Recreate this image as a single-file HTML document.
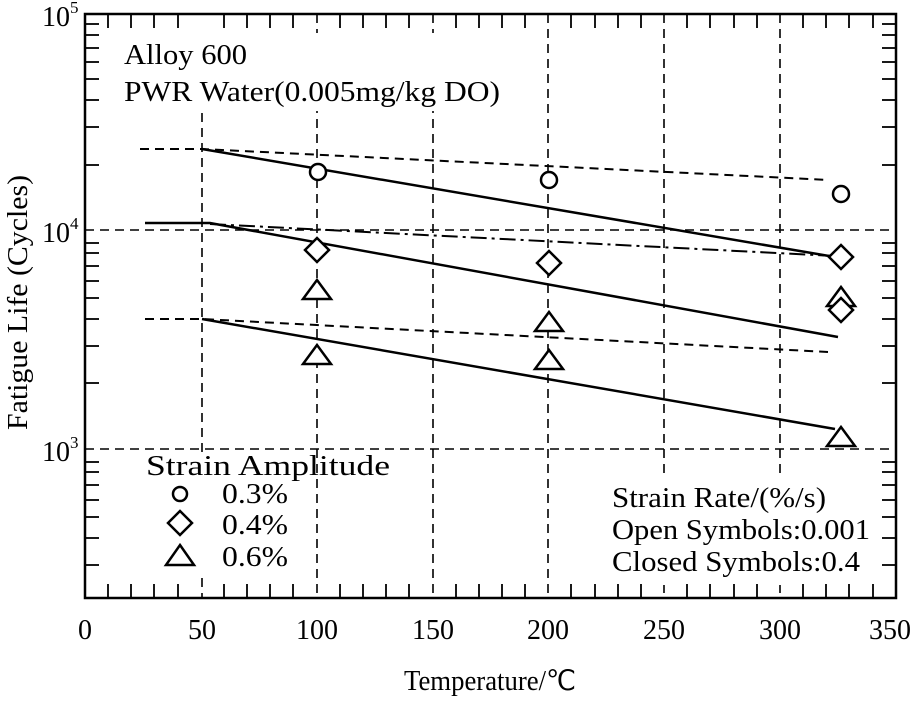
<!DOCTYPE html>
<html><head><meta charset="utf-8"><style>
html,body{margin:0;padding:0;background:#fff;}
svg text{font-family:"Liberation Serif",serif;fill:#000;}
</style></head><body>
<svg width="919" height="697" viewBox="0 0 919 697" xmlns="http://www.w3.org/2000/svg">
<rect width="919" height="697" fill="#fff"/>
<g stroke="#000" stroke-width="1.6" stroke-dasharray="9,6" fill="none">
<line x1="85" y1="230" x2="896" y2="230"/>
<line x1="85" y1="449" x2="896" y2="449"/>
<line x1="202" y1="113" x2="202" y2="598"/>
<line x1="317" y1="14" x2="317" y2="598"/>
<line x1="433" y1="14" x2="433" y2="598"/>
<line x1="548" y1="14" x2="548" y2="598"/>
<line x1="664" y1="14" x2="664" y2="598"/>
<line x1="780" y1="14" x2="780" y2="598"/>
</g>
<rect x="110" y="33" width="395" height="78" fill="#fff"/>
<rect x="140" y="452" width="160" height="123" fill="#fff"/>
<rect x="600" y="478" width="270" height="107" fill="#fff"/>
<rect x="85" y="14" width="811" height="584" fill="none" stroke="#000" stroke-width="2.5"/>
<g stroke="#000" stroke-width="1.8">
<line x1="108" y1="598" x2="108" y2="584"/><line x1="131" y1="598" x2="131" y2="584"/><line x1="154" y1="598" x2="154" y2="584"/><line x1="178" y1="598" x2="178" y2="584"/><line x1="224" y1="598" x2="224" y2="584"/><line x1="247" y1="598" x2="247" y2="584"/><line x1="270" y1="598" x2="270" y2="584"/><line x1="293" y1="598" x2="293" y2="584"/><line x1="340" y1="598" x2="340" y2="584"/><line x1="363" y1="598" x2="363" y2="584"/><line x1="386" y1="598" x2="386" y2="584"/><line x1="409" y1="598" x2="409" y2="584"/><line x1="456" y1="598" x2="456" y2="584"/><line x1="479" y1="598" x2="479" y2="584"/><line x1="502" y1="598" x2="502" y2="584"/><line x1="525" y1="598" x2="525" y2="584"/><line x1="571" y1="598" x2="571" y2="584"/><line x1="595" y1="598" x2="595" y2="584"/><line x1="618" y1="598" x2="618" y2="584"/><line x1="641" y1="598" x2="641" y2="584"/><line x1="687" y1="598" x2="687" y2="584"/><line x1="710" y1="598" x2="710" y2="584"/><line x1="734" y1="598" x2="734" y2="584"/><line x1="757" y1="598" x2="757" y2="584"/><line x1="803" y1="598" x2="803" y2="584"/><line x1="826" y1="598" x2="826" y2="584"/><line x1="849" y1="598" x2="849" y2="584"/><line x1="873" y1="598" x2="873" y2="584"/>
<line x1="108" y1="14" x2="108" y2="28"/><line x1="131" y1="14" x2="131" y2="28"/><line x1="154" y1="14" x2="154" y2="28"/><line x1="178" y1="14" x2="178" y2="28"/><line x1="224" y1="14" x2="224" y2="28"/><line x1="247" y1="14" x2="247" y2="28"/><line x1="270" y1="14" x2="270" y2="28"/><line x1="293" y1="14" x2="293" y2="28"/><line x1="340" y1="14" x2="340" y2="28"/><line x1="363" y1="14" x2="363" y2="28"/><line x1="386" y1="14" x2="386" y2="28"/><line x1="409" y1="14" x2="409" y2="28"/><line x1="456" y1="14" x2="456" y2="28"/><line x1="479" y1="14" x2="479" y2="28"/><line x1="502" y1="14" x2="502" y2="28"/><line x1="525" y1="14" x2="525" y2="28"/><line x1="571" y1="14" x2="571" y2="28"/><line x1="595" y1="14" x2="595" y2="28"/><line x1="618" y1="14" x2="618" y2="28"/><line x1="641" y1="14" x2="641" y2="28"/><line x1="687" y1="14" x2="687" y2="28"/><line x1="710" y1="14" x2="710" y2="28"/><line x1="734" y1="14" x2="734" y2="28"/><line x1="757" y1="14" x2="757" y2="28"/><line x1="803" y1="14" x2="803" y2="28"/><line x1="826" y1="14" x2="826" y2="28"/><line x1="849" y1="14" x2="849" y2="28"/><line x1="873" y1="14" x2="873" y2="28"/>
<line x1="85" y1="24" x2="99" y2="24"/><line x1="85" y1="35" x2="99" y2="35"/><line x1="85" y1="48" x2="99" y2="48"/><line x1="85" y1="62" x2="99" y2="62"/><line x1="85" y1="79" x2="99" y2="79"/><line x1="85" y1="100" x2="99" y2="100"/><line x1="85" y1="127" x2="99" y2="127"/><line x1="85" y1="165" x2="99" y2="165"/>
<line x1="85" y1="243" x2="99" y2="243"/><line x1="85" y1="253" x2="99" y2="253"/><line x1="85" y1="266" x2="99" y2="266"/><line x1="85" y1="281" x2="99" y2="281"/><line x1="85" y1="298" x2="99" y2="298"/><line x1="85" y1="319" x2="99" y2="319"/><line x1="85" y1="346" x2="99" y2="346"/><line x1="85" y1="383" x2="99" y2="383"/>
<line x1="85" y1="462" x2="99" y2="462"/><line x1="85" y1="472" x2="99" y2="472"/><line x1="85" y1="485" x2="99" y2="485"/><line x1="85" y1="500" x2="99" y2="500"/><line x1="85" y1="517" x2="99" y2="517"/><line x1="85" y1="538" x2="99" y2="538"/><line x1="85" y1="565" x2="99" y2="565"/>
<line x1="896" y1="24" x2="882" y2="24"/><line x1="896" y1="35" x2="882" y2="35"/><line x1="896" y1="48" x2="882" y2="48"/><line x1="896" y1="62" x2="882" y2="62"/><line x1="896" y1="79" x2="882" y2="79"/><line x1="896" y1="100" x2="882" y2="100"/><line x1="896" y1="127" x2="882" y2="127"/><line x1="896" y1="165" x2="882" y2="165"/>
<line x1="896" y1="243" x2="882" y2="243"/><line x1="896" y1="253" x2="882" y2="253"/><line x1="896" y1="266" x2="882" y2="266"/><line x1="896" y1="281" x2="882" y2="281"/><line x1="896" y1="298" x2="882" y2="298"/><line x1="896" y1="319" x2="882" y2="319"/><line x1="896" y1="346" x2="882" y2="346"/><line x1="896" y1="383" x2="882" y2="383"/>
<line x1="896" y1="462" x2="882" y2="462"/><line x1="896" y1="472" x2="882" y2="472"/><line x1="896" y1="485" x2="882" y2="485"/><line x1="896" y1="500" x2="882" y2="500"/><line x1="896" y1="517" x2="882" y2="517"/><line x1="896" y1="538" x2="882" y2="538"/><line x1="896" y1="565" x2="882" y2="565"/>
</g>
<g stroke="#000" stroke-width="2.5" fill="none">
<polyline points="202,149 835,257"/>
<polyline points="145,223 210,223 838,337"/>
<polyline points="202,319 835,429"/>
</g>
<g stroke="#000" stroke-width="2" fill="none" stroke-dasharray="9,6">
<polyline points="140,149 202,149 829,180"/>
<polyline points="145,319 202,319 828,352"/>
</g>
<polyline points="210,224 835,256" stroke="#000" stroke-width="2" fill="none" stroke-dasharray="16,5,3,5"/>
<g stroke="#000" stroke-width="2.5" fill="#fff">
<circle cx="318" cy="172" r="8"/><circle cx="549" cy="180" r="8"/><circle cx="841" cy="194" r="8"/>
<polygon points="317,238 329,250 317,262 305,250"/><polygon points="549,251 561,263 549,275 537,263"/><polygon points="841,245 853,257 841,269 829,257"/>
<polygon points="317,280 331,299 303,299"/><polygon points="317,345 331,364 303,364"/>
<polygon points="549,312 563,331 535,331"/><polygon points="549,350 563,369 535,369"/>
<polygon points="841,287 855,306 827,306"/><polygon points="841,298 853,310 841,322 829,310"/>
<polygon points="841,427 855,446 827,446"/>
<circle cx="180" cy="494" r="7"/>
<polygon points="180,511 192,523 180,535 168,523"/>
<polygon points="180,545 194,565 166,565"/>
</g>
<g font-size="28">
<text x="124" y="64" textLength="123" lengthAdjust="spacingAndGlyphs">Alloy 600</text>
<text x="124" y="101" textLength="376" lengthAdjust="spacingAndGlyphs">PWR Water(0.005mg/kg DO)</text>
<text x="146" y="475" textLength="244" lengthAdjust="spacingAndGlyphs">Strain Amplitude</text>
<text x="222" y="503" textLength="66" lengthAdjust="spacingAndGlyphs">0.3%</text>
<text x="222" y="534" textLength="66" lengthAdjust="spacingAndGlyphs">0.4%</text>
<text x="222" y="566" textLength="66" lengthAdjust="spacingAndGlyphs">0.6%</text>
<text x="612" y="507" textLength="214" lengthAdjust="spacingAndGlyphs">Strain Rate/(%/s)</text>
<text x="612" y="539" textLength="258" lengthAdjust="spacingAndGlyphs">Open Symbols:0.001</text>
<text x="612" y="571" textLength="248" lengthAdjust="spacingAndGlyphs">Closed Symbols:0.4</text>
<g text-anchor="middle">
<text x="85" y="639">0</text><text x="202" y="639">50</text><text x="317" y="639">100</text><text x="433" y="639">150</text><text x="548" y="639">200</text><text x="664" y="639">250</text><text x="780" y="639">300</text><text x="890" y="639">350</text>
</g>
<text x="404" y="690" textLength="172" lengthAdjust="spacingAndGlyphs">Temperature/℃</text>
<text transform="translate(27,430) rotate(-90)" textLength="255" lengthAdjust="spacingAndGlyphs">Fatigue Life (Cycles)</text>
<text x="42" y="26">10</text><text x="70" y="13" font-size="17">5</text>
<text x="42" y="242">10</text><text x="70" y="229" font-size="17">4</text>
<text x="42" y="461">10</text><text x="70" y="448" font-size="17">3</text>
</g>
</svg>
</body></html>
